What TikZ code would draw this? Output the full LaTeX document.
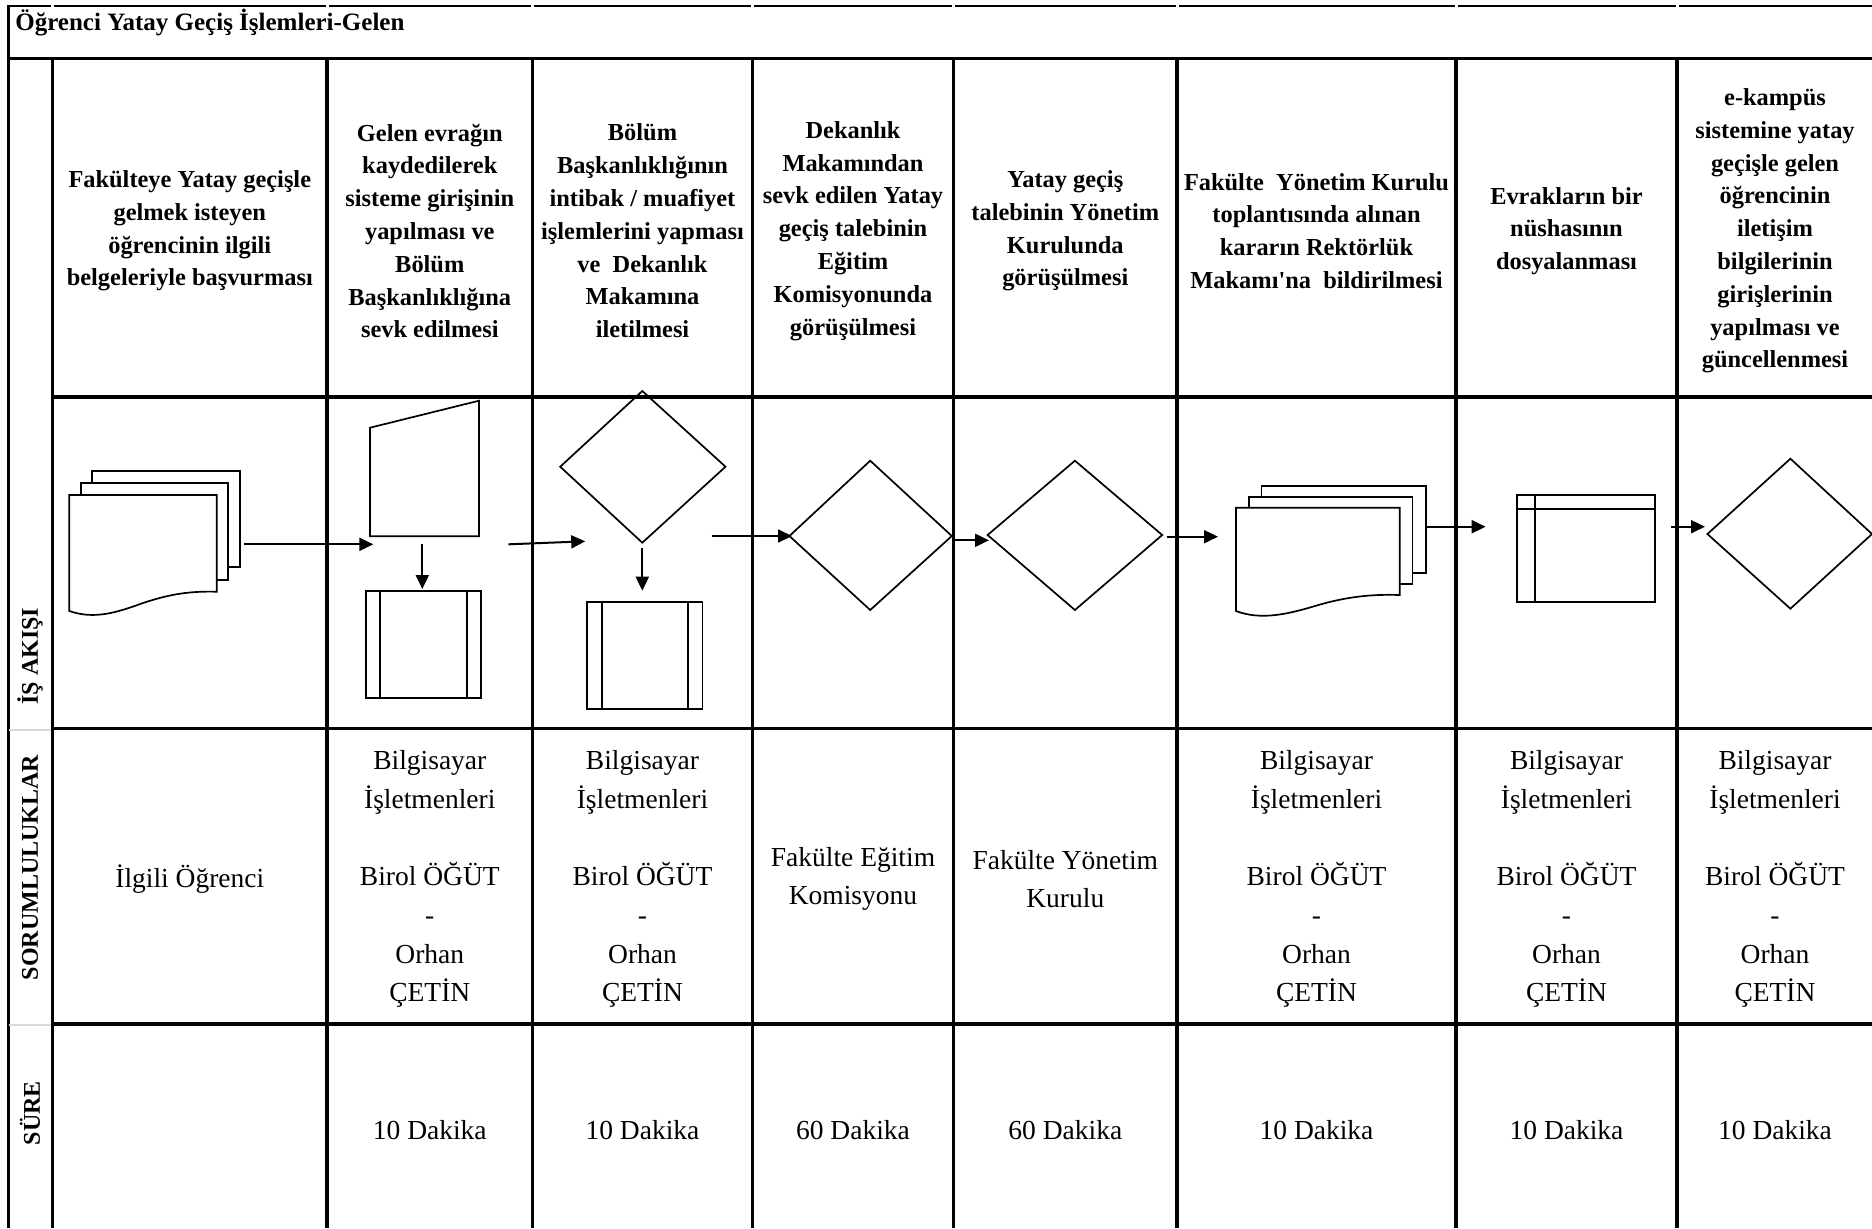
\documentclass[tikz,border=0pt]{standalone}
\usepackage{fontspec}
\setmainfont{Liberation Serif}
\usetikzlibrary{arrows.meta}
\tikzset{
  gridline/.style={line width=1.75pt},
  thinborder/.style={line width=1.1pt},
  shp/.style={line width=0.85pt, fill=white, line join=miter},
  arr/.style={line width=1pt, -{Triangle[length=7pt,width=6.5pt]}},
  hdr/.style={align=center, inner sep=0pt, font=\bfseries\fontsize{12.2pt}{16.4pt}\selectfont},
  body/.style={align=center, inner sep=0pt, font=\fontsize{13.75pt}{19.35pt}\selectfont},
  side/.style={rotate=90, inner sep=0pt, font=\bfseries\fontsize{12pt}{14pt}\selectfont},
  ttl/.style={anchor=base west, inner sep=0pt, font=\bfseries\fontsize{12.5pt}{15pt}\selectfont},
}
\begin{document}
\begin{tikzpicture}[x=0.5pt,y=-0.5pt]
\useasboundingbox (0,0) rectangle (1872,1228);
\fill[white] (0,0) rectangle (1872,1228);

% ---------- grid ----------
\foreach \a/\b in {8/51,54/326,329/531,534/751,754/952,955/1176,1179/1455,1458/1676,1679/1872}
  \draw[line width=1.3pt] (\a,6) -- (\b,6);
\draw[thinborder] (8.5,5) -- (8.5,1228);
\draw[gridline] (8,58.5) -- (1872,58.5);
\foreach \xx in {52.5,327,532.5,752.5,953.5,1177,1456,1677}
  \draw[gridline] (\xx,58.5) -- (\xx,1228);
\foreach \yy in {397,728.5,1024}
  \draw[gridline] (52.5,\yy) -- (1872,\yy);
\draw[gray!30, line width=1pt] (9,730) -- (51,730);
\draw[gray!30, line width=1pt] (9,1025) -- (51,1025);

% ---------- title and side labels ----------
\node[ttl] (title) at (15,30) {Öğrenci Yatay Geçiş İşlemleri-Gelen};
\node[side] (sideflow) at (30,656) {İŞ AKIŞI};
\node[side] (sideresp) at (30,867.5) {SORUMLULUKLAR};
\node[side] (sidetime) at (30,1113) {SÜRE};

% ---------- header row ----------
\node[hdr] (h1) at (189.8,231) {Fakülteye Yatay geçişle\\gelmek isteyen\\öğrencinin ilgili\\belgeleriyle başvurması};
\node[hdr] (h2) at (429.8,231) {Gelen evrağın\\kaydedilerek\\sisteme girişinin\\yapılması ve\\Bölüm\\Başkanlıklığına\\sevk edilmesi};
\node[hdr] (h3) at (642.5,231) {Bölüm\\Başkanlıklığının\\intibak / muafiyet\\işlemlerini yapması\\ve\ \ Dekanlık\\Makamına\\iletilmesi};
\node[hdr] (h4) at (853,231) {Dekanlık\\Makamından\\sevk edilen Yatay\\geçiş talebinin\\Eğitim\\Komisyonunda\\görüşülmesi};
\node[hdr] (h5) at (1065.3,231) {Yatay geçiş\\talebinin Yönetim\\Kurulunda\\görüşülmesi};
\node[hdr] (h6) at (1316.5,231) {Fakülte\ \ Yönetim Kurulu\\toplantısında alınan\\kararın Rektörlük\\Makamı\textquotesingle na\ \ bildirilmesi};
\node[hdr] (h7) at (1566.5,231) {Evrakların bir\\nüshasının\\dosyalanması};
\node[hdr] (h8) at (1775,231) {e-kampüs\\sistemine yatay\\geçişle gelen\\öğrencinin\\iletişim\\bilgilerinin\\girişlerinin\\yapılması ve\\güncellenmesi};

% ---------- responsibilities ----------
\newcommand{\bopair}{Bilgisayar\\İşletmenleri\\\mbox{}\\Birol ÖĞÜT\\-\\Orhan\\ÇETİN}
\node[body] (r1) at (189.8,879) {İlgili Öğrenci};
\node[body] (r2) at (429.8,879) {\bopair};
\node[body] (r3) at (642.5,879) {\bopair};
\node[body] (r4) at (853,879) {Fakülte Eğitim\\Komisyonu};
\node[body] (r5) at (1065.3,879) {Fakülte Yönetim\\Kurulu};
\node[body] (r6) at (1316.5,879) {\bopair};
\node[body] (r7) at (1566.5,879) {\bopair};
\node[body] (r8) at (1775,879) {\bopair};

% ---------- durations ----------
\node[body] (t2) at (429.8,1130) {10 Dakika};
\node[body] (t3) at (642.5,1130) {10 Dakika};
\node[body] (t4) at (853,1130) {60 Dakika};
\node[body] (t5) at (1065.3,1130) {60 Dakika};
\node[body] (t6) at (1316.5,1130) {10 Dakika};
\node[body] (t7) at (1566.5,1130) {10 Dakika};
\node[body] (t8) at (1775,1130) {10 Dakika};

% ---------- shapes ----------
% col 1 multi-document
\draw[shp] (92.3,470.7) rectangle (240.3,567.3);
\draw[shp] (80.7,482.7) rectangle (227.7,580);
\draw[shp] (69.3,611) -- (69.3,495) -- (216.7,495) -- (216.7,591.7)
  .. controls (190,591) and (170,594) .. (143,603)
  .. controls (118,612) and (95,620) .. (69.3,611) -- cycle;
\coordinate (doc1) at (244,544.3);

% col 2 manual input
\draw[shp] (370,427.7) -- (479,400.7) -- (479,536.3) -- (370,536.3) -- cycle;
\coordinate (man2w) at (373.3,544.3);
\coordinate (man2s) at (422.3,544.3);
\coordinate (man2e) at (508.3,544.3);
% col 2 predefined process
\draw[shp] (366,590.7) rectangle (481,697.7);
\draw[line width=0.85pt] (380.3,590.7) -- (380.3,697.7) (466.7,590.7) -- (466.7,697.7);
\coordinate (pp2n) at (422.3,589);

% col 3 decision
\draw[line width=0.85pt, line join=miter] (642.3,391) -- (725.5,466.7) -- (642.3,542.7) -- (560.2,466.7) -- cycle;
\coordinate (d3w) at (585.2,541.3);
\coordinate (d3s) at (642.3,548.3);
\coordinate (d3e) at (711.7,536);
% col 3 predefined process
\draw[shp] (587.2,601.7) rectangle (702.6,709.3);
\draw[line width=0.85pt] (602,601.7) -- (602,709.3) (688.3,601.7) -- (688.3,709.3);
\coordinate (pp3n) at (642.3,590.7);

% col 4 decision
\draw[line width=0.85pt, line join=miter] (870.2,460.7) -- (951.8,536) -- (870.2,610) -- (789.4,536) -- cycle;
\coordinate (d4w) at (792,536);
\coordinate (d4e) at (952.5,540.3);

% col 5 decision
\draw[line width=0.85pt, line join=miter] (1074.9,460.7) -- (1162.2,535) -- (1074.9,610) -- (987.6,535) -- cycle;
\coordinate (d5w) at (989,540.3);
\coordinate (d5e) at (1166.5,536.7);

% col 6 multi-document
\draw[shp] (1261.6,486) rectangle (1426.2,573.3);
\draw[shp] (1248.8,496.7) rectangle (1412.6,584.3);
\draw[shp] (1235.9,611) -- (1235.9,507.7) -- (1399.7,507.7) -- (1399.7,595)
  .. controls (1370,594) and (1345,597) .. (1315,606)
  .. controls (1285,615) and (1260,620) .. (1235.9,611) -- cycle;
\coordinate (doc6w) at (1218,536.7);
\coordinate (doc6e) at (1426.2,526.7);

% col 7 internal storage
\draw[line width=1pt] (1517.3,495.3) rectangle (1655.3,602.3);
\draw[line width=1pt] (1517.3,509) -- (1655.3,509) (1534.7,495.3) -- (1534.7,602.3);
\coordinate (st7w) at (1485.6,526.7);
\coordinate (st7e) at (1671,526.7);

% col 8 decision
\draw[line width=0.85pt, line join=miter] (1790.4,458.7) -- (1872,534) -- (1790.4,608.7) -- (1707.4,534) -- cycle;
\coordinate (d8w) at (1705,526.7);

% ---------- connectors ----------
\draw[arr] (doc1) -- (man2w);
\draw[arr] (man2s) -- (pp2n);
\draw[arr] (man2e) -- (d3w);
\draw[arr] (d3s) -- (pp3n);
\draw[arr] (d3e) -- (d4w);
\draw[arr] (d4e) -- (d5w);
\draw[arr] (d5e) -- (doc6w);
\draw[arr] (doc6e) -- (st7w);
\draw[arr] (st7e) -- (d8w);
\end{tikzpicture}
\end{document}
